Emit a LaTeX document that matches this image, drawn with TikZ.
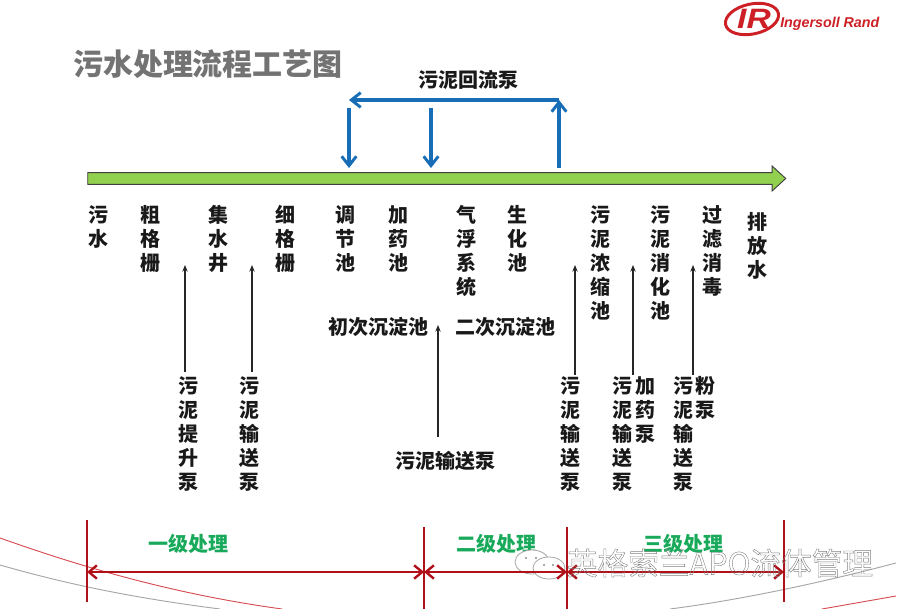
\documentclass[tikz,border=0pt]{standalone}
\usepackage{fontspec}
\usepackage{xcolor}
\setmainfont{Noto Sans CJK SC}[BoldFont={* Black}]
\newfontfamily\logofont{Liberation Sans}[BoldFont={* Bold},ItalicFont={* Italic},BoldItalicFont={* Bold Italic}]
\usetikzlibrary{shapes.arrows, arrows.meta, positioning}
\definecolor{flowgreen}{RGB}{146,208,80}
\definecolor{pumpblue}{RGB}{23,110,183}
\definecolor{stagered}{RGB}{176,16,24}
\definecolor{stagegreen}{RGB}{24,170,90}
\definecolor{logored}{RGB}{205,32,38}
\newcommand{\outlinetext}[1]{\special{pdf:code 1 Tr 0.3 w}#1\special{pdf:code 0 Tr 1 w}}

\begin{document}
\begin{tikzpicture}[
  x=0.75pt, y=-0.75pt,
  vtext/.style={anchor=north, inner sep=0pt, text width=1.2em, align=center, xshift=-1.5pt,
                font=\fontsize{15}{18}\selectfont\bfseries, text=black!90},
  htext/.style={inner sep=0pt, font=\fontsize{15}{18}\selectfont\bfseries, text=black!90},
  stage/.style={inner sep=0pt, font=\fontsize{15}{18}\selectfont\bfseries, text=stagegreen},
  thin arrow/.style={-{Stealth[length=5pt,width=4pt]}, line width=0.8pt, black!85},
  blue arrow/.style={-{Straight Barb[length=7pt,width=11pt,line width=2.2pt]}, line width=2.6pt, pumpblue},
  red arrow/.style={{Straight Barb[length=6pt,width=10pt,line width=1.8pt]}-{Straight Barb[length=6pt,width=10pt,line width=1.8pt]}, line width=2pt, stagered},
  tick/.style={line width=2pt, stagered}
]
\useasboundingbox (0,0) rectangle (900,609);

% Background curves
\draw[logored!80, line width=0.7pt] (0,538) .. controls (90,570) and (180,595) .. (282,609);
\draw[black!35, line width=0.7pt] (0,565) .. controls (80,588) and (150,600) .. (220,609);
\draw[black!35, line width=0.7pt] (896,563) .. controls (820,583) and (740,600) .. (670,609);
\draw[logored!80, line width=0.7pt] (896,596) -- (822,609);

% Logo
\draw[logored, line width=2.2pt] (752,19) ellipse[x radius=27, y radius=15, rotate=12];
\node[inner sep=0pt, xscale=1.2, font=\logofont\bfseries\itshape\fontsize{21}{21}\selectfont, text=logored] (logoir) at (754,19) {IR};
\node[inner sep=0pt, anchor=west, font=\logofont\bfseries\itshape\fontsize{10.7}{12}\selectfont, text=logored] (logoname) at (780,24) {Ingersoll Rand};

% Title
\node[inner sep=0pt, font=\fontsize{22.5}{26}\selectfont\bfseries, text=black!55] (title) at (208,64) {污水处理流程工艺图};

% Main flow
\node[single arrow, draw=black!75, fill=flowgreen, line width=0.7pt, inner xsep=0pt, inner ysep=4.1pt,
      minimum width=18pt, minimum height=523.5pt, single arrow head extend=4.9pt,
      single arrow tip angle=85] (mainflow) at (433.5,178.5) {};

% Return pump
\node[htext] (returnpump) at (468,80) {污泥回流泵};
\coordinate (inlet) at (349,108);
\coordinate (dose) at (431,108);
\coordinate (corner) at (559,100);
\coordinate (leftend) at (349,100);
\coordinate (inletend) at (349,168);
\coordinate (doseend) at (431,168);
\coordinate (riser) at (559,168);
\draw[blue arrow] (inlet) -- (inletend);
\draw[blue arrow] (dose) -- (doseend);
\draw[blue arrow] (riser) -- (corner);
\draw[blue arrow] (corner) -- (leftend);

% Process steps
\node[vtext] (sewage) at (98,205) {污\\水};
\node[vtext] (coarse) at (150,205) {粗\\格\\栅};
\node[vtext] (well) at (218,205) {集\\水\\井};
\node[vtext] (fine) at (285,205) {细\\格\\栅};
\node[vtext] (regul) at (345,205) {调\\节\\池};
\node[vtext] (dosing) at (398,205) {加\\药\\池};
\node[vtext] (flot) at (466,205) {气\\浮\\系\\统};
\node[vtext] (bio) at (517,205) {生\\化\\池};
\node[vtext] (thick) at (600,205) {污\\泥\\浓\\缩\\池};
\node[vtext] (digest) at (660,205) {污\\泥\\消\\化\\池};
\node[vtext] (filter) at (712,205) {过\\滤\\消\\毒};
\node[vtext] (outlet) at (757,212) {排\\放\\水};

\node[htext] (primary) at (378,327) {初次沉淀池};
\node[htext] (secondary) at (505,327) {二次沉淀池};

% Pumps
\node[vtext] (liftpump) at (188,376.5) {污\\泥\\提\\升\\泵};
\node[vtext] (conva) at (249,376.5) {污\\泥\\输\\送\\泵};
\node[htext] (convb) at (445,461) {污泥输送泵};
\node[vtext] (convc) at (570,376.5) {污\\泥\\输\\送\\泵};
\node[vtext] (convd) at (622,376.5) {污\\泥\\输\\送\\泵};
\node[vtext] (dosepump) at (645,376.5) {加\\药\\泵};
\node[vtext] (conve) at (683,376.5) {污\\泥\\输\\送\\泵};
\node[vtext] (powderpump) at (705,376.5) {粉\\泵};

% Thin arrows
\coordinate (a1) at (185,372); \coordinate (b1) at (185,265);
\coordinate (a2) at (252,372); \coordinate (b2) at (252,265);
\coordinate (a3) at (438,437); \coordinate (b3) at (438,325);
\coordinate (a4) at (575,375); \coordinate (b4) at (575,265);
\coordinate (a5) at (633,375); \coordinate (b5) at (633,265);
\coordinate (a6) at (693,375); \coordinate (b6) at (693,265);
\foreach \n in {1,...,6}
  \draw[thin arrow] (a\n) -- (b\n);

% Stages
\node[stage] (stagea) at (188,544) {一级处理};
\node[stage] (stageb) at (496,544) {二级处理};
\node[stage] (stagec) at (683,544) {三级处理};
\coordinate (ta) at (87,520);  \coordinate (tb) at (87,602);
\coordinate (tc) at (424,527); \coordinate (td) at (424,609);
\coordinate (te) at (567,527); \coordinate (tf) at (567,609);
\coordinate (tg) at (784,520); \coordinate (th) at (784,602);
% Bubbles under the arrows
\draw[black!35, fill=white, line width=0.6pt] (532,562) ellipse (17 and 12);
\draw[black!35, fill=white, line width=0.6pt] (549,568) ellipse (16 and 11);
\foreach \px/\py in {526/558, 536/558, 544/565, 553/565}
  \fill[black!45] (\px,\py) circle (1.2);
\draw[tick] (ta) -- (tb);
\draw[tick] (tc) -- (td);
\draw[tick] (te) -- (tf);
\draw[tick] (tg) -- (th);
\coordinate (ra) at (87,572); \coordinate (rb) at (424,572);
\coordinate (rc) at (567,572); \coordinate (rd) at (784,572);
\draw[red arrow] (ra) -- (rb);
\draw[red arrow] (rb) -- (rc);
\draw[red arrow] (rc) -- (rd);

% Watermark
\node[inner sep=0pt, font=\fontsize{23}{26}\selectfont, text=black!50] (mark) at (720,563) {\outlinetext{英格索兰APO流体管理}};
\end{tikzpicture}
\end{document}
